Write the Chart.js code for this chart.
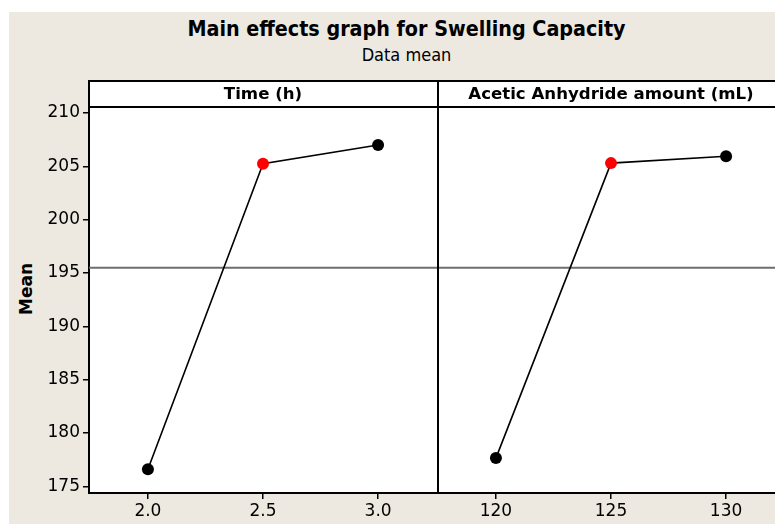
<!DOCTYPE html>
<html><head><meta charset="utf-8">
<script src="https://cdn.jsdelivr.net/npm/chart.js@4/dist/chart.umd.min.js"></script>
<style>
html,body{margin:0;padding:0;width:775px;height:525px;overflow:hidden;background:#fff;}
#bg{position:absolute;left:9px;top:12px;width:820px;height:512px;background:#EDE9E0;}
.t{position:absolute;left:0;width:813px;text-align:center;color:#000;white-space:nowrap;}
#title{top:16px;font:bold 21.3px "DejaVu Sans Condensed","DejaVu Sans";}
#sub{top:44px;font:18px "DejaVu Sans Condensed","DejaVu Sans";}
#ylab{position:absolute;left:26px;top:289px;transform:translate(-50%,-50%) rotate(-90deg);font:bold 17px "DejaVu Sans";white-space:nowrap;}
canvas{position:absolute;top:80px;}
#cA{left:0;}
#cB{left:437px;}
</style></head>
<body>
<div id="bg"></div>
<div class="t" id="title">Main effects graph for Swelling Capacity</div>
<div class="t" id="sub">Data mean</div>
<div id="ylab">Mean</div>
<canvas id="cA" width="437" height="445"></canvas>
<canvas id="cB" width="348" height="445"></canvas>
<script>
// ---- data ----
const panelTitles = ['Time (h)', 'Acetic Anhydride amount (mL)'];
const timeLevels = [2.0, 2.5, 3.0];
const timeMeans = [176.6, 205.25, 207.0];
const acetLevels = [120, 125, 130];
const acetMeans = [177.65, 205.3, 205.95];
const grandMean = 195.5;
const yTicks = [175, 180, 185, 190, 195, 200, 205, 210];
const pointColors = ['#000000', '#ff0000', '#000000'];

const Y_MIN = 174.38, Y_MAX = 210.56;

function panelPlugin(title, drawDivider){
  return {
    id:'panel',
    beforeDraw(chart){
      const {ctx, chartArea:a} = chart;
      ctx.save();
      ctx.fillStyle = '#fff';
      ctx.fillRect(a.left, 0, a.right - a.left, a.bottom);
      ctx.restore();
    },
    beforeDatasetsDraw(chart){
      const {ctx, chartArea:a, scales} = chart;
      const y = scales.y.getPixelForValue(grandMean);
      ctx.save();
      ctx.strokeStyle = '#6e6e6e';
      ctx.lineWidth = 2;
      ctx.beginPath(); ctx.moveTo(a.left, y); ctx.lineTo(a.right, y); ctx.stroke();
      ctx.restore();
    },
    afterDraw(chart){
      const {ctx, chartArea:a} = chart;
      ctx.save();
      ctx.strokeStyle = '#000';
      ctx.lineWidth = 2;
      ctx.beginPath();
      ctx.moveTo(a.left, 1); ctx.lineTo(a.right + 2, 1);
      ctx.moveTo(a.left, a.top); ctx.lineTo(a.right + 2, a.top);
      ctx.stroke();
      ctx.beginPath();
      const dx = a.left + (drawDivider ? 1 : 0);
      ctx.moveTo(dx, 0); ctx.lineTo(dx, drawDivider ? a.bottom : a.top);
      ctx.stroke();
      ctx.fillStyle = '#000';
      ctx.font = 'bold 16.6px "DejaVu Sans"';
      ctx.textAlign = 'center';
      ctx.textBaseline = 'middle';
      ctx.fillText(title, (a.left + a.right) / 2, a.top / 2 + 1);
      ctx.restore();
    }
  };
}

function makeChart(id, levels, means, xmin, xmax, fmt, showY, title, divider){
  return new Chart(document.getElementById(id), {
    type:'line',
    data:{datasets:[{
      data: levels.map((v,i)=>({x:v, y:means[i]})),
      borderColor:'#000', borderWidth:1.6,
      pointRadius:6, pointHoverRadius:6, pointBorderWidth:0,
      pointBackgroundColor: pointColors, fill:false, tension:0
    }]},
    options:{
      responsive:false, animation:false, events:[],
      layout:{autoPadding:false, padding:{top:27,left:0,right:0,bottom:0}},
      plugins:{legend:{display:false}, tooltip:{enabled:false}},
      scales:{
        x:{type:'linear', min:xmin, max:xmax,
          afterBuildTicks:s=>{s.ticks = levels.map(v=>({value:v}));},
          afterFit:s=>{s.height = 32;},
          grid:{drawOnChartArea:false, drawTicks:true, tickLength:6, color:'#000', lineWidth:1.5},
          border:{display:true, color:'#000', width:2},
          ticks:{color:'#000', font:{family:'DejaVu Sans', size:17}, padding:2, maxRotation:0, autoSkip:false,
            callback:v=>fmt(v)}
        },
        y:{type:'linear', min:Y_MIN, max:Y_MAX, display: showY,
          afterBuildTicks:s=>{s.ticks = yTicks.map(v=>({value:v}));},
          afterFit:s=>{s.width = showY ? 89 : 0;},
          grid:{drawOnChartArea:false, drawTicks:true, tickLength:6, color:'#000', lineWidth:1.5},
          border:{display:true, color:'#000', width:2},
          ticks:{color:'#000', font:{family:'DejaVu Sans', size:17}, padding:3, autoSkip:false}
        }
      }
    },
    plugins:[panelPlugin(title, divider)]
  });
}

makeChart('cA', timeLevels, timeMeans, 1.744, 3.256, v=>Number(v).toFixed(1), true, panelTitles[0], false);
makeChart('cB', acetLevels, acetMeans, 117.44, 132.56, v=>String(v), false, panelTitles[1], true);
</script>
</body></html>
